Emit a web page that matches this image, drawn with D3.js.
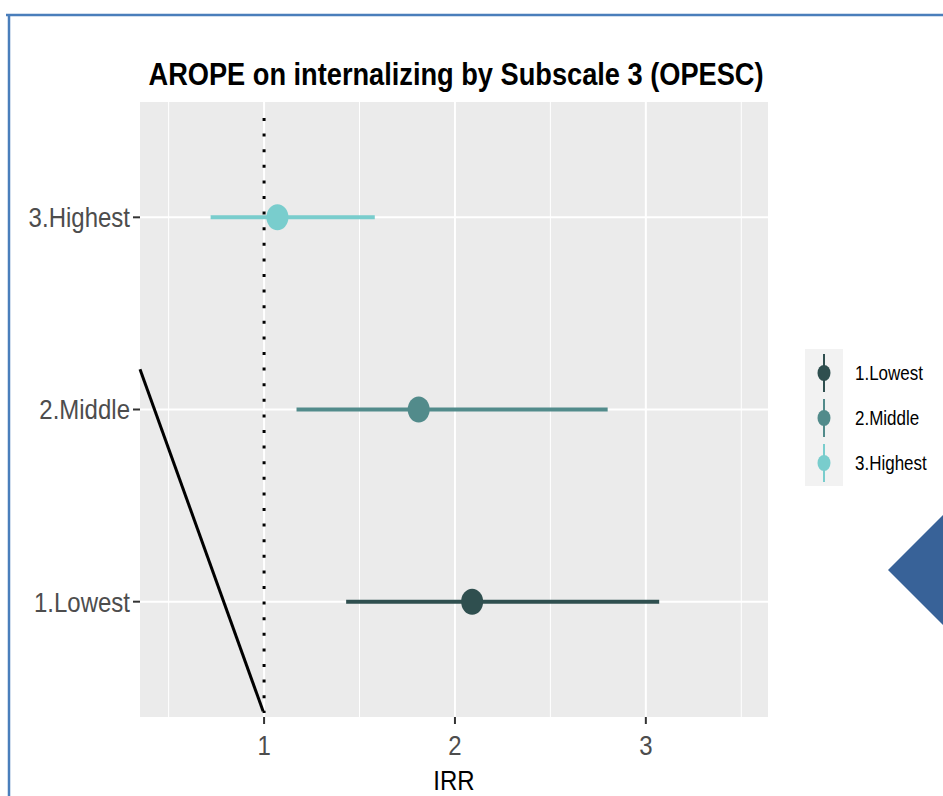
<!DOCTYPE html>
<html>
<head>
<meta charset="utf-8">
<script src="https://cdn.jsdelivr.net/npm/d3@7"></script>
<style>
  body { margin: 0; background: #fff; }
  svg { display: block; font-family: "Liberation Sans", Arial, sans-serif; }
</style>
</head>
<body>
<div id="chart"></div>
<script>
// groups, bottom to top as drawn
const groups = ["1.Lowest", "2.Middle", "3.Highest"];
const irr    = [2.09, 1.81, 1.07];
const lower  = [1.43, 1.17, 0.72];
const upper  = [3.07, 2.80, 1.58];
const colors = ["#2F4F4F", "#528B8B", "#79CDCD"];
const xTicks = [1, 2, 3];
const xMinor = [0.5, 1.5, 2.5, 3.5];
const refLine = 1;
// slide annotation line, in data units (IRR, group position 1..3)
const annoLine = [[0.35, 2.21], [0.995, 0.43]];

const width = 943, height = 796;
const panel = {left: 140, right: 768, top: 102, bottom: 717};
const stretch = 1.15; // the slide squashes text a bit horizontally

const svg = d3.select("#chart").append("svg")
    .attr("width", width)
    .attr("height", height);

// slide frame
svg.append("line").attr("x1", 6).attr("x2", width).attr("y1", 15).attr("y2", 15)
    .attr("stroke", "#4a7ebb").attr("stroke-width", 2.5);
svg.append("line").attr("x1", 9).attr("x2", 9).attr("y1", 14).attr("y2", height)
    .attr("stroke", "#4a7ebb").attr("stroke-width", 2.5);

let x = d3.scaleLinear()
    .domain([0.35, 3.64])
    .range([panel.left, panel.right]);

// continuous y: group index 1..3, with 0.6 expansion each side
let y = d3.scaleLinear()
    .domain([0.4, 3.6])
    .range([panel.bottom, panel.top]);

svg.append("rect")
    .attr("x", panel.left).attr("y", panel.top)
    .attr("width", panel.right - panel.left)
    .attr("height", panel.bottom - panel.top)
    .attr("fill", "#ebebeb");

const grid = svg.append("g").attr("stroke", "#fff");
grid.selectAll(".minor").data(xMinor).join("line")
    .attr("x1", d => x(d)).attr("x2", d => x(d))
    .attr("y1", panel.top).attr("y2", panel.bottom)
    .attr("stroke-width", 1);
grid.selectAll(".major").data(xTicks).join("line")
    .attr("x1", d => x(d)).attr("x2", d => x(d))
    .attr("y1", panel.top).attr("y2", panel.bottom)
    .attr("stroke-width", 2);
grid.selectAll(".hmajor").data(groups).join("line")
    .attr("x1", panel.left).attr("x2", panel.right)
    .attr("y1", (d, i) => y(i + 1)).attr("y2", (d, i) => y(i + 1))
    .attr("stroke-width", 2);

// reference line at IRR = 1
svg.append("line")
    .attr("x1", x(refLine)).attr("x2", x(refLine))
    .attr("y1", panel.top + 16).attr("y2", panel.bottom - 4)
    .attr("stroke", "#000")
    .attr("stroke-width", 3)
    .attr("stroke-dasharray", "3,12.6");

// point ranges
const pr = svg.append("g")
  .selectAll("g")
  .data(groups)
  .join("g");

pr.append("line")
    .attr("x1", (d, i) => x(lower[i])).attr("x2", (d, i) => x(upper[i]))
    .attr("y1", (d, i) => y(i + 1)).attr("y2", (d, i) => y(i + 1))
    .attr("stroke", (d, i) => colors[i])
    .attr("stroke-width", 4);

pr.append("ellipse")
    .attr("cx", (d, i) => x(irr[i]))
    .attr("cy", (d, i) => y(i + 1))
    .attr("rx", 11).attr("ry", 13)
    .attr("fill", (d, i) => colors[i]);

// annotation line
svg.append("line")
    .attr("x1", x(annoLine[0][0])).attr("y1", y(annoLine[0][1]))
    .attr("x2", x(annoLine[1][0])).attr("y2", y(annoLine[1][1]))
    .attr("stroke", "#000")
    .attr("stroke-width", 3);

// y axis
const ya = svg.append("g");
ya.selectAll("line").data(groups).join("line")
    .attr("x1", panel.left - 7).attr("x2", panel.left)
    .attr("y1", (d, i) => y(i + 1)).attr("y2", (d, i) => y(i + 1))
    .attr("stroke", "#333").attr("stroke-width", 2);
ya.selectAll("text").data(groups).join("text")
    .attr("transform", (d, i) => `translate(${panel.left - 10},${y(i + 1)}) scale(1,${stretch})`)
    .attr("dy", "0.36em")
    .attr("text-anchor", "end")
    .attr("font-size", 24)
    .attr("fill", "#4d4d4d")
    .text(d => d);

// x axis
const xa = svg.append("g");
xa.selectAll("line").data(xTicks).join("line")
    .attr("x1", d => x(d)).attr("x2", d => x(d))
    .attr("y1", panel.bottom).attr("y2", panel.bottom + 7)
    .attr("stroke", "#333").attr("stroke-width", 2);
xa.selectAll("text").data(xTicks).join("text")
    .attr("transform", d => `translate(${x(d)},${panel.bottom + 38}) scale(1,${stretch})`)
    .attr("text-anchor", "middle")
    .attr("font-size", 24)
    .attr("fill", "#4d4d4d")
    .text(d => d);

svg.append("text")
    .attr("transform", `translate(${(panel.left + panel.right) / 2},790) scale(1,${stretch})`)
    .attr("text-anchor", "middle")
    .attr("font-size", 24)
    .attr("fill", "#000")
    .text("IRR");

// title
svg.append("text")
    .attr("transform", `translate(456,85) scale(1,${stretch})`)
    .attr("text-anchor", "middle")
    .attr("font-size", 27)
    .attr("font-weight", "bold")
    .attr("textLength", 615)
    .attr("lengthAdjust", "spacingAndGlyphs")
    .text("AROPE on internalizing by Subscale 3 (OPESC)");

// legend
const leg = svg.append("g");
leg.append("rect")
    .attr("x", 805).attr("y", 349)
    .attr("width", 38).attr("height", 137)
    .attr("fill", "#f2f2f2");

const keys = leg.selectAll("g")
  .data(groups)
  .join("g")
    .attr("transform", (d, i) => `translate(824,${373 + i * 45})`);

keys.append("line")
    .attr("y1", -19).attr("y2", 19)
    .attr("stroke", (d, i) => colors[i])
    .attr("stroke-width", 2);
keys.append("ellipse")
    .attr("rx", 6.5).attr("ry", 8)
    .attr("fill", (d, i) => colors[i]);
keys.append("text")
    .attr("transform", `translate(31,0) scale(1,${stretch})`)
    .attr("dy", "0.36em")
    .attr("font-size", 17)
    .attr("fill", "#000")
    .text(d => d);

// slide arrow shape at right edge
svg.append("path")
    .attr("d", d3.line()([[888, 570], [943, 515], [943, 625]]) + "Z")
    .attr("fill", "#386298");
</script>
</body>
</html>
